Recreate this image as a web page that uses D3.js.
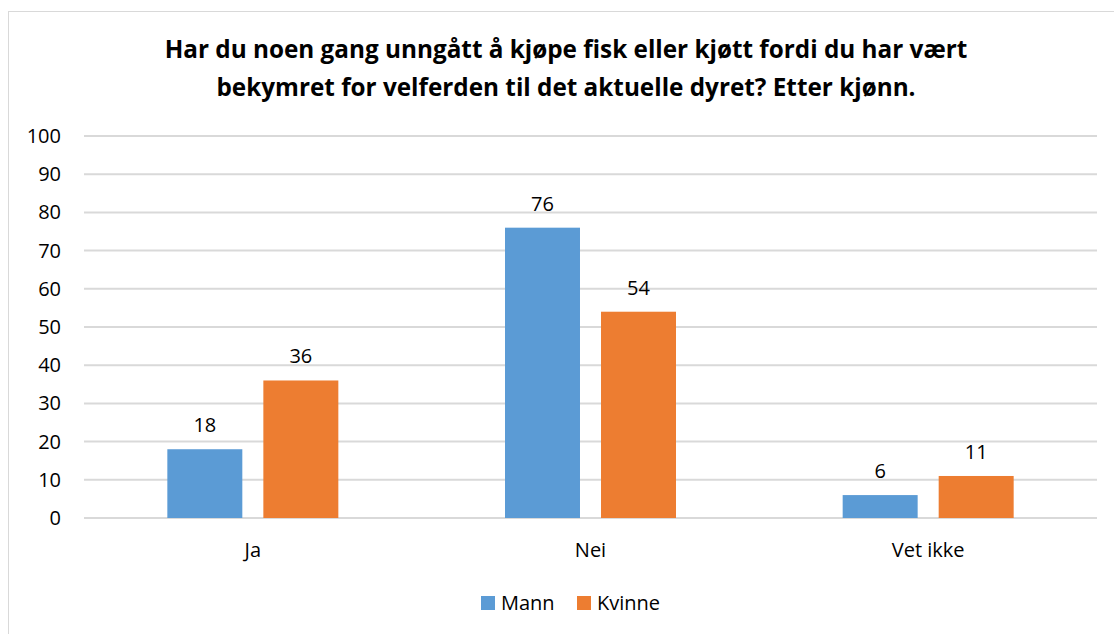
<!DOCTYPE html>
<html lang="no">
<head>
<meta charset="UTF-8">
<title>Unngått fisk eller kjøtt etter kjønn</title>
<script src="https://d3js.org/d3.v7.min.js"></script>
<style>
    body { margin: 0; background: #fff; }
    text { font-family: "Open Sans", "Liberation Sans", sans-serif; fill: #000; }
    .title { font-size: 24.3px; font-weight: bold; }
    .tick-label { font-size: 20px; }
    .bar-label { font-size: 20px; }
    .legend-label { font-size: 20px; }
</style>
</head>
<body>
<div id="chart"></div>
<script>
    const categories = ["Ja", "Nei", "Vet ikke"];
    const seriesNames = ["Mann", "Kvinne"];
    const mann = [18, 76, 6];
    const kvinne = [36, 54, 11];
    const yTicks = [0, 10, 20, 30, 40, 50, 60, 70, 80, 90, 100];
    const colors = ["#5B9BD5", "#ED7D31"];
    const titleLines = [
        "Har du noen gang unngått å kjøpe fisk eller kjøtt fordi du har vært",
        "bekymret for velferden til det aktuelle dyret? Etter kjønn."
    ];

    const W = 1114, H = 634;
    const plot = { left: 84, right: 1097, top: 136, bottom: 518 };

    const svg = d3.select("#chart").append("svg")
        .attr("width", W)
        .attr("height", H);

    // chart frame
    svg.append("rect")
        .attr("x", 8.5).attr("y", 11.5)
        .attr("width", W + 10).attr("height", H + 10)
        .attr("fill", "#fff")
        .attr("stroke", "#d9d9d9")
        .attr("stroke-width", 1);

    svg.selectAll(".title")
        .data(titleLines)
        .enter().append("text")
        .attr("class", "title")
        .attr("x", 566)
        .attr("y", (d, i) => 58 + i * 38)
        .attr("text-anchor", "middle")
        .text(d => d);

    const x0 = d3.scaleBand()
        .domain(categories)
        .range([plot.left, plot.right]);

    const x1 = d3.scaleBand()
        .domain(seriesNames)
        .range([0, x0.bandwidth()])
        .paddingInner(0.219)
        .paddingOuter(0.868);

    const y = d3.scaleLinear()
        .domain([0, 100])
        .range([plot.bottom, plot.top]);

    // gridlines
    svg.append("g").selectAll("line")
        .data(yTicks)
        .enter().append("line")
        .attr("x1", plot.left).attr("x2", plot.right)
        .attr("y1", d => y(d)).attr("y2", d => y(d))
        .attr("stroke", "#d9d9d9")
        .attr("stroke-width", 2);

    svg.append("g").selectAll("text")
        .data(yTicks)
        .enter().append("text")
        .attr("class", "tick-label")
        .attr("x", 61)
        .attr("y", d => y(d))
        .attr("dy", "0.35em")
        .attr("text-anchor", "end")
        .text(d => d);

    const rows = categories.map((c, i) => ({ cat: c, values: [mann[i], kvinne[i]] }));

    const groups = svg.append("g").selectAll("g")
        .data(rows)
        .enter().append("g")
        .attr("transform", d => `translate(${x0(d.cat)},0)`);

    const bars = groups.selectAll("g")
        .data(d => d.values.map((v, j) => ({ name: seriesNames[j], value: v, j: j })))
        .enter().append("g");

    bars.append("rect")
        .attr("x", d => x1(d.name))
        .attr("width", x1.bandwidth())
        .attr("y", d => y(d.value))
        .attr("height", d => y(0) - y(d.value))
        .attr("fill", d => colors[d.j]);

    bars.append("text")
        .attr("class", "bar-label")
        .attr("x", d => x1(d.name) + x1.bandwidth() / 2)
        .attr("y", d => y(d.value) - 17)
        .attr("text-anchor", "middle")
        .text(d => d.value);

    // category labels
    svg.append("g").selectAll("text")
        .data(categories)
        .enter().append("text")
        .attr("class", "tick-label")
        .attr("x", d => x0(d) + x0.bandwidth() / 2)
        .attr("y", 557)
        .attr("text-anchor", "middle")
        .text(d => d);

    // legend
    const legend = svg.append("g");
    const legendX = [481, 577];
    seriesNames.forEach((name, i) => {
        legend.append("rect")
            .attr("x", legendX[i]).attr("y", 596)
            .attr("width", 14).attr("height", 14)
            .attr("fill", colors[i]);
        legend.append("text")
            .attr("class", "legend-label")
            .attr("x", legendX[i] + 20)
            .attr("y", 610)
            .text(name);
    });
</script>
</body>
</html>
